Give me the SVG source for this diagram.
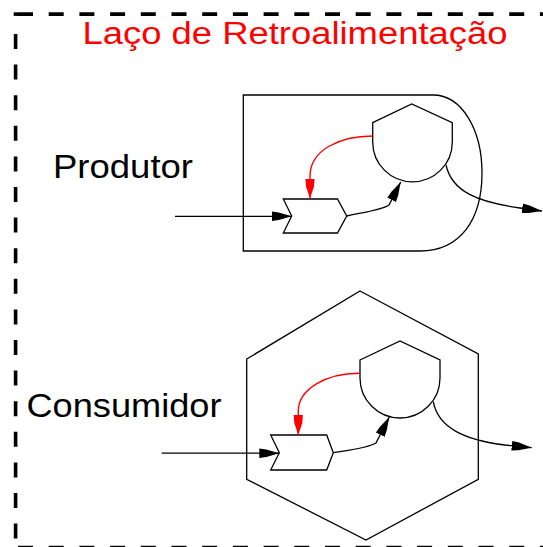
<svg xmlns="http://www.w3.org/2000/svg" width="543" height="547" viewBox="0 0 543 547">
<style>
.border{fill:none;stroke:#000;stroke-width:3.6}
.shape{fill:#fff;stroke:#000;stroke-width:1.3}
.conn{fill:none;stroke:#000;stroke-width:1.3}
.fb{fill:none;stroke:#f00;stroke-width:1.4}
.lbl{font-family:"Liberation Sans",Arial,sans-serif;fill:#000}
.title{font-family:"Liberation Sans",Arial,sans-serif;fill:#f00}
</style>
<defs>
<marker id="ah" markerUnits="userSpaceOnUse" markerWidth="22" markerHeight="12" viewBox="0 -6 22 12" refX="20" refY="0" orient="auto">
<path d="M0,-4.8 L7,-3.8 L20,0 L7,3.8 L0,4.8 Z" fill="#000"/>
</marker>
<marker id="ahr" markerUnits="userSpaceOnUse" markerWidth="22" markerHeight="12" viewBox="0 -6 22 12" refX="20" refY="0" orient="auto">
<path d="M0,-4.6 L8,-4 L20,0 L8,4 L0,4.6 Z" fill="#f00"/>
</marker>
</defs>
<rect width="543" height="547" fill="#fff"/>
<g id="frame">
<path class="border" d="M18,14.1 H543" stroke-dasharray="15 15.7"/>
<rect x="13.7" y="12.3" width="4.3" height="3.6" fill="#000"/>
<path class="border" d="M15.6,34 V547" stroke-dasharray="15 15.6"/>
<path class="border" d="M18,547.6 H543" stroke-dasharray="15 15.7"/>
</g>
<text class="title" x="82.5" y="44.3" font-size="31" textLength="425" lengthAdjust="spacingAndGlyphs">Laço de Retroalimentação</text>
<g id="produtor">
<path class="shape" d="M243.3,95 H433 C 462,95 482,130 482,173 C 482,220 460,251 420,251 H243.3 Z"/>
<text class="lbl" x="53" y="177.7" font-size="33" textLength="140" lengthAdjust="spacingAndGlyphs">Produtor</text>
</g>
<g id="produtor-processo">
<path class="shape" d="M372.7,122.7 L411.7,104 L452.3,122.7 V142 A39.8,39.8 0 0 1 372.7,142 Z"/>
</g>
<g id="produtor-entrada">
<path class="shape" d="M283.3,199 L337.5,199 L346.7,216 L337.5,233 L283.3,233 L291.7,216 Z"/>
</g>
<g id="consumidor">
<path class="shape" d="M360,291 L478.3,354 L478.3,479.3 L366,540 L246.7,479.3 L246.7,359 Z"/>
<text class="lbl" x="26.5" y="416.5" font-size="32.5" textLength="195" lengthAdjust="spacingAndGlyphs">Consumidor</text>
</g>
<g id="consumidor-processo">
<path class="shape" d="M360,360 L400,341 L440,360 V378 A40,40 0 0 1 360,378 Z"/>
</g>
<g id="consumidor-entrada">
<path class="shape" d="M270.7,435 L326.7,435 L333.3,452.7 L326.7,470 L270.7,470 L279.3,452.7 Z"/>
</g>
<g id="connectors">
<path class="conn" d="M175,216.3 L291.7,216.3" marker-end="url(#ah)"/>
<path class="fb" d="M372.7,136 C 340,136 310,150 310,176 L310,198.5" marker-end="url(#ahr)"/>
<path class="conn" d="M346.7,216 C 365,212 382,210 389,205 L400.7,182" marker-end="url(#ah)"/>
<path class="conn" d="M446,165 C 452,192 478,202 520,208 L542,211" marker-end="url(#ah)"/>
<path class="conn" d="M161.7,453.2 L279.3,453.2" marker-end="url(#ah)"/>
<path class="fb" d="M360,373.3 C 325,373 298.3,390 298.3,411 L298.3,435" marker-end="url(#ahr)"/>
<path class="conn" d="M333.3,452.7 C 350,450 368,448 376,443 L389.3,417" marker-end="url(#ah)"/>
<path class="conn" d="M433.3,401.7 C 438,428 465,440 505,445 L531.7,447.7" marker-end="url(#ah)"/>
</g>
</svg>
